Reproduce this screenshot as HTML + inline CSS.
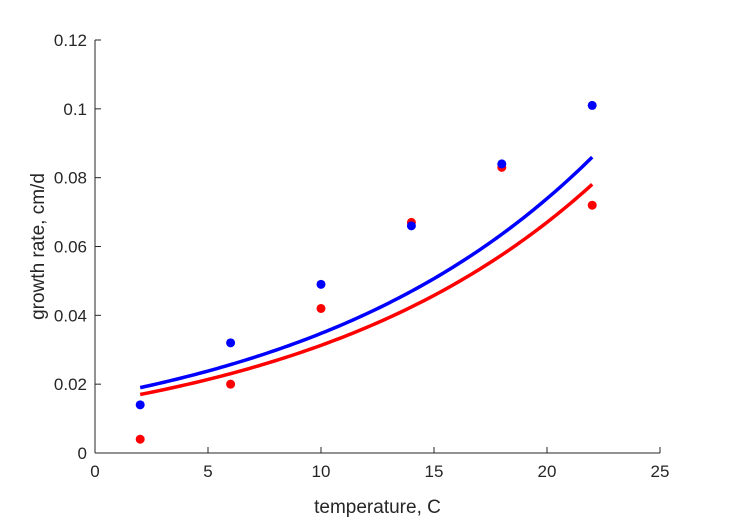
<!DOCTYPE html>
<html><head><meta charset="utf-8"><style>
body{margin:0;background:#fff;}
svg text{font-family:"Liberation Sans",sans-serif;fill:#262626;}
</style></head><body>
<svg id="chart" width="729" height="521" viewBox="0 0 729 521"></svg>
<script>
const xTicks=[0,5,10,15,20,25];
const yTicks=[0,0.02,0.04,0.06,0.08,0.1,0.12];
const yTickLabels=["0","0.02","0.04","0.06","0.08","0.1","0.12"];
const temps=[2,6,10,14,18,22];
const redValues=[0.004,0.020,0.042,0.067,0.083,0.072];
const blueValues=[0.014,0.032,0.049,0.066,0.084,0.101];
const redFit=[0.0146,0.0762];
const blueFit=[0.01633,0.0755];
const fitRange=[2,22];

const svg=document.getElementById('chart');
const NS='http://www.w3.org/2000/svg';
const X0=95,X1=660,Y0=453,Y1=40;
const sx=v=>X0+(v-0)/(25-0)*(X1-X0);
const sy=v=>Y0-(v-0)/(0.12-0)*(Y0-Y1);
function mk(tag,attrs){const e=document.createElementNS(NS,tag);for(const k in attrs)e.setAttribute(k,attrs[k]);svg.appendChild(e);return e;}

let e=mk('line',{x1:X0,y1:Y0,x2:X1,y2:Y0,stroke:'#262626','stroke-width':1});


e=mk('line',{x1:X0,y1:Y0,x2:X0,y2:Y1,stroke:'#262626','stroke-width':1});



xTicks.forEach(t=>{
  const x=sx(t);
  let l=mk('line',{x1:x,y1:Y0,x2:x,y2:Y0-6,stroke:'#262626'});
  
  
  let tx=mk('text',{x:x,y:Y0+24,'text-anchor':'middle','font-size':17});
  tx.textContent=t;
  
  
});
yTicks.forEach((t,i)=>{
  const y=sy(t);
  let l=mk('line',{x1:X0,y1:y,x2:X0+6,y2:y,stroke:'#262626'});
  
  
  let tx=mk('text',{x:X0-8,y:y+6,'text-anchor':'end','font-size':17});
  tx.textContent=yTickLabels[i];
  
  
});
let xl=mk('text',{x:(X0+X1)/2,y:513,'text-anchor':'middle','font-size':19});
xl.textContent='temperature, C';


let yl=mk('text',{x:0,y:0,'text-anchor':'middle','font-size':19,transform:`translate(44,${(Y0+Y1)/2}) rotate(-90)`});
yl.textContent='growth rate, cm/d';



function fitLine(p,color,name){
  let d='';
  for(let i=0;i<=100;i++){const t=fitRange[0]+(fitRange[1]-fitRange[0])*i/100;const v=p[0]*Math.exp(p[1]*t);d+=(i?'L':'M')+sx(t).toFixed(2)+','+sy(v).toFixed(2);}
  const el=mk('path',{d:d,fill:'none',stroke:color,'stroke-width':3.5});
  
  
}
function pts(vals,color,name){
  vals.forEach((v,i)=>{
    const c=mk('circle',{cx:sx(temps[i]),cy:sy(v),r:4.5,fill:color});
    
    
  });
}
fitLine(redFit,'#ff0000','red-fit-curve');
fitLine(blueFit,'#0000ff','blue-fit-curve');
pts(redValues,'#ff0000','red-point');
pts(blueValues,'#0000ff','blue-point');
</script>
</body></html>
